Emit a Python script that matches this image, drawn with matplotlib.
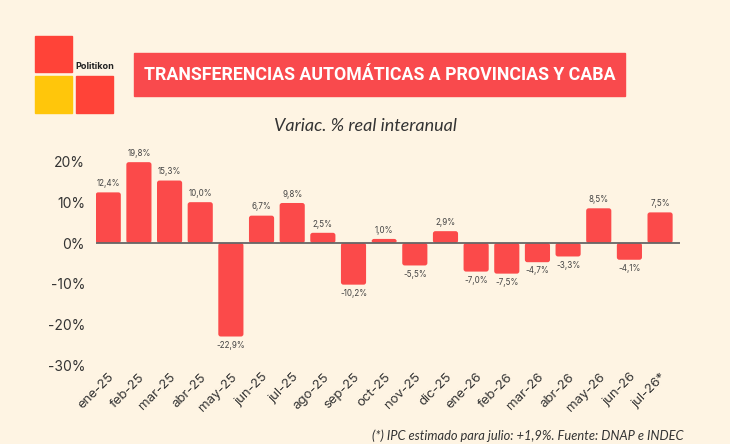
import matplotlib
matplotlib.use('Agg')
import matplotlib.pyplot as plt
from matplotlib import font_manager
from matplotlib.patches import Rectangle, FancyBboxPatch

# datos
meses = ['ene-25', 'feb-25', 'mar-25', 'abr-25', 'may-25', 'jun-25', 'jul-25',
         'ago-25', 'sep-25', 'oct-25', 'nov-25', 'dic-25', 'ene-26', 'feb-26',
         'mar-26', 'abr-26', 'may-26', 'jun-26', 'jul-26*']
variacion = [12.4, 19.8, 15.3, 10.0, -22.9, 6.7, 9.8, 2.5, -10.2, 1.0, -5.5,
             2.9, -7.0, -7.5, -4.7, -3.3, 8.5, -4.1, 7.5]
yticks = [-30, -20, -10, 0, 10, 20]

FONDO = '#FEF4E3'
ROJO = '#FB4A4A'
TEXTO = '#333333'

disponibles = {f.name for f in font_manager.fontManager.ttflist}
fuente_titulo = 'Roboto' if 'Roboto' in disponibles else 'DejaVu Sans'
fuente = 'Inter' if 'Inter' in disponibles else 'DejaVu Sans'
fuente_it = 'Lato' if 'Lato' in disponibles else 'DejaVu Sans'

fig = plt.figure(figsize=(7.3, 4.44), dpi=100, facecolor=FONDO)
ax = fig.add_axes([0.1315, 0.1768, 0.80, 0.4782])
ax.set_facecolor(FONDO)

x = list(range(len(meses)))
barras = ax.bar(x, variacion, width=0.82, color=ROJO, zorder=2)
# esquinas redondeadas
for b in barras:
    bx = b.get_x()
    alto = b.get_height()
    y0 = min(0, alto)
    r = FancyBboxPatch((bx, y0), b.get_width(), abs(alto),
                       boxstyle='round,pad=0,rounding_size=0.08',
                       mutation_aspect=7.5, facecolor=ROJO, edgecolor='none',
                       zorder=2)
    b.remove()
    ax.add_patch(r)
ax.axhline(0, color='#666666', linewidth=1.3, zorder=3)

for xi, v in zip(x, variacion):
    txt = ('%.1f%%' % v).replace('.', ',')
    if v >= 0:
        ax.annotate(txt, (xi, v), xytext=(0, 3), textcoords='offset points',
                    ha='center', va='bottom', fontsize=5.8, color='#444444',
                    family=fuente, clip_on=False)
    else:
        ax.annotate(txt, (xi, v), xytext=(0, -3), textcoords='offset points',
                    ha='center', va='top', fontsize=5.8, color='#444444',
                    family=fuente, clip_on=False)

ax.set_xlim(-0.4, 18.65)
ax.set_ylim(-30, 22)
ax.set_yticks(yticks)
ax.set_yticklabels(['%d%%' % t for t in yticks], fontsize=10, color=TEXTO, family=fuente)
ax.set_xticks(x)
ax.set_xticklabels(meses, rotation=45, ha='right', rotation_mode='anchor',
                   fontsize=9.5, color=TEXTO, family=fuente)
ax.tick_params(axis='both', length=0)
ax.tick_params(axis='y', pad=8)
ax.tick_params(axis='x', pad=4)
for s in ax.spines.values():
    s.set_visible(False)

# logo
W, H = 730, 444
def caja(x0, y0, x1, y1, color):
    fig.patches.append(Rectangle((x0 / W, 1 - y1 / H), (x1 - x0) / W, (y1 - y0) / H,
                                 transform=fig.transFigure, color=color, zorder=1))
caja(35, 36, 72, 72, '#FF4338')
caja(35, 76, 72, 113, '#FFC60B')
caja(76, 76, 113, 113, '#FF4338')
fig.text(75 / W, 1 - 69 / H, 'Politikon', fontsize=6.5, fontweight='bold',
         color='#222222', family=fuente, va='baseline')

# titulo
caja(134, 53, 625, 96, '#F94A4D')
fig.text(380 / W, 1 - 75 / H, 'TRANSFERENCIAS AUTOMÁTICAS A PROVINCIAS Y CABA',
         fontsize=12.8, fontweight='bold', color='white', family=fuente_titulo,
         ha='center', va='center')
fig.text(365 / W, 1 - 126 / H, 'Variac. % real interanual', fontsize=13,
         style='italic', color=TEXTO, family=fuente_it, ha='center', va='center')
fig.text(683 / W, 1 - 436 / H, '(*) IPC estimado para julio: +1,9%. Fuente: DNAP e INDEC',
         fontsize=9.3, style='italic', color=TEXTO, family=fuente_it, ha='right', va='center')

fig.savefig('out.png', dpi=100, facecolor=FONDO)
